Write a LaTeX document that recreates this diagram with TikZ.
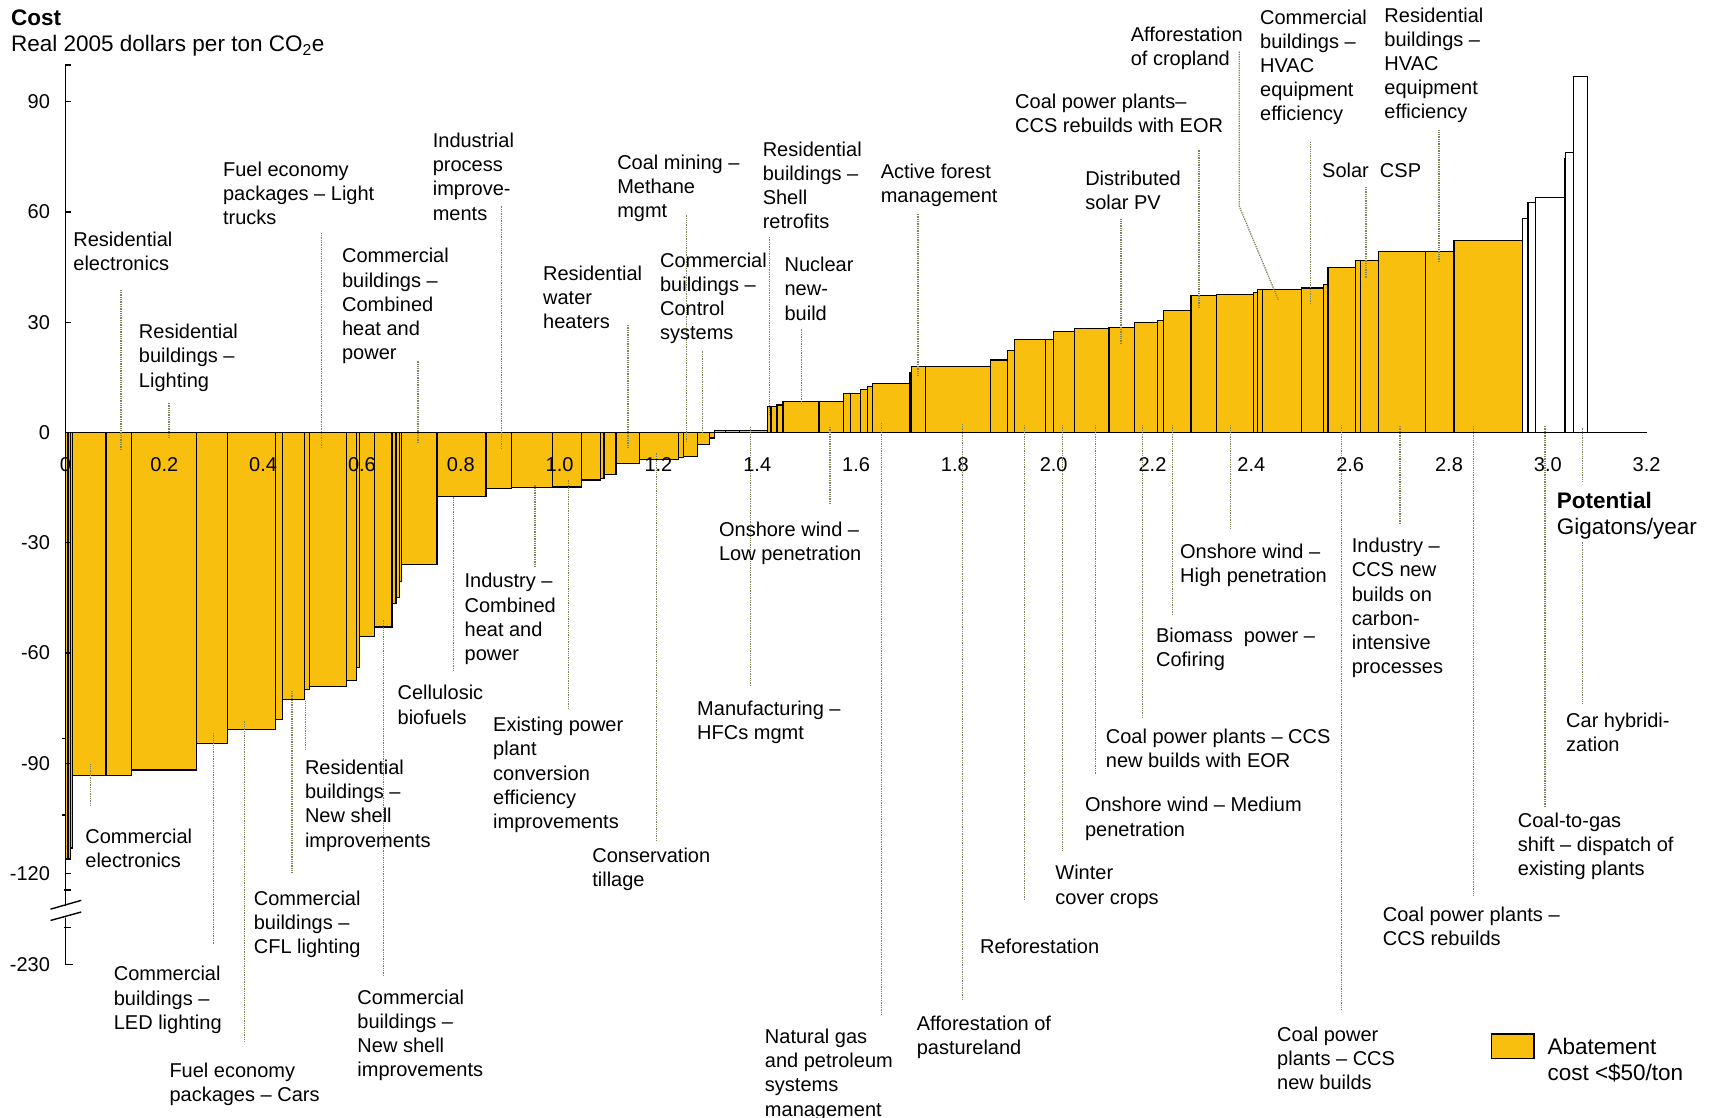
\documentclass[tikz,border=0pt]{standalone}
\usepackage{fontspec}
\setmainfont{Liberation Sans}
\usepackage{tikz}
\usetikzlibrary{positioning}
\definecolor{abate}{RGB}{249,191,14}
\definecolor{leadcol}{RGB}{125,133,88}

\begin{document}
\begin{tikzpicture}[x=1.098pt,y=-1.098pt,
    lab/.style={anchor=north west,align=left,inner sep=0pt,font=\fontsize{20}{24.2}\selectfont},
    biglab/.style={lab,font=\fontsize{22.5}{26.4}\selectfont},
    ticklab/.style={inner sep=0pt,font=\fontsize{20}{24}\selectfont},
    bar/.style={draw=black,line width=1.2pt,fill=abate},
    costly/.style={draw=black,line width=1.2pt,fill=white},
    leader/.style={draw=leadcol,line width=1.3pt,dash pattern=on 1.3pt off 1pt},
    axis/.style={draw=black,line width=1.4pt}]

  \useasboundingbox (0,0) rectangle (1560.1,1017.3);

  \begin{scope}[shift={(59.65,393.9)},x=494.1pt,y=3.676pt]
    \foreach \a/\b/\c in {0/0.005/-116,0.005/0.010/-116,0.010/0.014/-113,
        0.014/0.082/-93.2,0.082/0.133/-93.2,0.133/0.265/-91.8,0.265/0.328/-84.5,
        0.328/0.425/-80.7,0.425/0.439/-78.1,0.439/0.483/-72.7,0.483/0.494/-70.0,
        0.494/0.568/-69.0,0.568/0.589/-67.5,0.589/0.595/-64.0,0.595/0.626/-55.5,
        0.626/0.661/-52.9,0.661/0.669/-46.5,0.669/0.676/-44.9,0.676/0.680/-40.6,
        0.680/0.752/-35.9,0.752/0.851/-17.4,0.851/0.903/-15.3,0.903/0.985/-15.0,
        0.985/1.044/-14.8,1.044/1.082/-12.9,1.082/1.090/-12.5,1.090/1.114/-11.4,
        1.114/1.162/-8.4,1.162/1.241/-7.4,1.241/1.251/-6.8,1.251/1.279/-6.5,
        1.279/1.304/-3.2,1.304/1.314/-1.5,
        1.314/1.335/0.6,1.335/1.364/0.6,1.364/1.420/0.6,1.420/1.428/7.1,
        1.428/1.440/7.1,1.440/1.452/7.5,1.452/1.525/8.4,1.525/1.574/8.4,
        1.574/1.589/10.6,1.589/1.609/10.6,1.609/1.623/11.8,1.623/1.634/12.6,
        1.634/1.709/13.3,1.709/1.712/16.3,1.712/1.741/18.0,1.741/1.872/18.0,
        1.872/1.907/19.7,1.907/1.920/22.3,1.920/1.984/25.3,1.984/1.999/25.3,
        1.999/2.042/27.4,2.042/2.112/28.2,2.112/2.163/28.6,2.163/2.210/30.0,
        2.210/2.222/30.4,2.222/2.278/33.1,2.278/2.329/37.2,2.329/2.404/37.6,
        2.404/2.413/38.1,2.413/2.423/38.8,2.423/2.502/38.8,2.502/2.546/39.3,
        2.546/2.555/40.3,2.555/2.611/44.8,2.611/2.621/46.7,2.621/2.658/46.7,
        2.658/2.753/49.2,2.753/2.810/49.2,2.810/2.949/52.2}
      \draw[bar] (\a,0) rectangle (\b,\c);
    \foreach \a/\b/\c in {2.949/2.960/58.3,2.960/2.975/62.5,2.975/3.033/63.9,
        3.033/3.036/74.6,3.036/3.052/76.1,3.052/3.080/96.8}
      \draw[costly] (\a,0) rectangle (\b,\c);

    \draw[axis] (0,0) -- (3.2,0);
    \draw[axis] (0.012,100) -- (0,100) -- (0,-128.8);
    \draw[axis] (0,-131.9) -- (0,-144.7) -- (0.016,-144.7);
    \foreach \c [count=\i] in {90,60,30,0,-30,-60,-90,-120} {
      \draw[axis] (0,\c) -- (0.012,\c);
      \node[ticklab,anchor=east] (yt\i) at (-0.031,\c) {\c};
    }
    \node[ticklab,anchor=east] (yt9) at (-0.031,-144.7) {-230};
    \foreach \c in {-124.4,-134.7} \draw[axis] (-0.004,\c) -- (0.012,\c);
    \foreach \c in {-83.3,-104} \draw[axis] (-0.008,\c) -- (0,\c);
    \foreach \v [count=\i] in {0,0.2,0.4,0.6,0.8,1.0,1.2,1.4,1.6,1.8,2.0,2.2,2.4,2.6,2.8,3.0,3.2}
      \node[ticklab] (gx\i) at (\v,-8.7) {\v};
  \end{scope}

  \fill[white] (45,829.5) -- (76,821) -- (76,831.2) -- (45,839.7) -- cycle;
  \draw[axis] (46,828) -- (74,820);
  \draw[axis] (46,838.3) -- (74,830.6);

  \node[biglab,font=\fontsize{22.5}{26.4}\selectfont\bfseries] (cost) at (10,9) {Cost};
  \node[biglab] (unit) at (10,32) {Real 2005 dollars per ton CO\textsubscript{2}e};

  \foreach \n/\x/\ya/\yb in {resel/110.1/264/408.9, reslight/154/367/399,
      fuellight/292.5/212/408, comchp/380.6/329/404, indproc/457/188/408,
      reswater/572/296/408, coalmine/625/196/403, comctrl/640/320/394,
      resshell/701/216/378, nuclear/730/300/368, forest/836/195/343,
      solarpv/1021/199/314, ccseor/1092/137/281, comhvac/1193.7/129/276,
      reshvac/1310.6/118/238, solarcsp/1244.1/170/253.5,
      comel/82.3/695.4/733.8, comled/194.5/667.6/860, fuelcar/222.4/657/950,
      comcfl/266/629/795, resnew/278.1/638/683, comnew/349.3/565/888,
      cellul/413/453/612, indchp/487.3/442/516, existing/517.6/437.5/645,
      tillage/598/413/765, windlow/756/389/460, hfc/683.7/389/625,
      natgas/803/385/925, affpast/876.7/386/910, refor/932.9/387/820,
      winter/967.5/387/775, windmed/997.6/387/705, ccsneweor/1040.4/387/655,
      biomass/1067.7/387/560, windhigh/1120.8/387/482, ccsnew/1222/387/920,
      indccs/1275/388/476, ccsreb/1342/388/816, coalgas/1407/388/734,
      hybridup/1441/390/440, hybrid/1441/494/641} {
    \coordinate (\n-a) at (\x,\ya);
    \coordinate (\n-b) at (\x,\yb);
    \draw[leader] (\n-a) -- (\n-b);
  }
  \coordinate (affcrop-a) at (1128.7,47);
  \coordinate (affcrop-m) at (1128.7,188);
  \coordinate (affcrop-b) at (1164.2,273);
  \draw[leader] (affcrop-a) -- (affcrop-m) -- (affcrop-b);

  \node[lab] (resel) at (66.7,211) {Residential\\electronics};
  \node[lab] (reslight) at (126.4,295) {Residential\\buildings –\\Lighting};
  \node[lab] (fuellight) at (203,147) {Fuel economy\\packages – Light\\trucks};
  \node[lab] (comchp) at (311.4,226) {Commercial\\buildings –\\Combined\\heat and\\power};
  \node[lab] (indproc) at (394,121) {Industrial\\process\\improve-\\ments};
  \node[lab] (reswater) at (494.5,242) {Residential\\water\\heaters};
  \node[lab] (coalmine) at (562,141) {Coal mining –\\Methane\\mgmt};
  \node[lab] (comctrl) at (601,230) {Commercial\\buildings –\\Control\\systems};
  \node[lab] (resshell) at (694.5,129) {Residential\\buildings –\\Shell\\retrofits};
  \node[lab] (nuclear) at (714.4,234) {Nuclear\\new-\\build};
  \node[lab] (forest) at (802,149) {Active forest\\management};
  \node[lab] (solarpv) at (988.2,155.5) {Distributed\\solar PV};
  \node[lab] (ccseor) at (924.4,85) {Coal power plants–\\CCS rebuilds with EOR};
  \node[lab] (affcrop) at (1029.7,24) {Afforestation\\of cropland};
  \node[lab] (comhvac) at (1147.5,8.5) {Commercial\\buildings –\\HVAC\\equipment\\efficiency};
  \node[lab] (reshvac) at (1260.7,6.7) {Residential\\buildings –\\HVAC\\equipment\\efficiency};
  \node[lab] (solarcsp) at (1204,148.7) {Solar\ \ CSP};

  \node[lab] (comel) at (77.6,755) {Commercial\\electronics};
  \node[lab] (comled) at (103.5,880) {Commercial\\buildings –\\LED lighting};
  \node[lab] (fuelcar) at (154.2,968) {Fuel economy\\packages – Cars};
  \node[lab] (comcfl) at (231,811) {Commercial\\buildings –\\CFL lighting};
  \node[lab] (resnew) at (277.6,692) {Residential\\buildings –\\New shell\\improvements};
  \node[lab] (comnew) at (325.4,901) {Commercial\\buildings –\\New shell\\improvements};
  \node[lab] (cellul) at (362,624) {Cellulosic\\biofuels};
  \node[lab] (indchp) at (423,522) {Industry –\\Combined\\heat and\\power};
  \node[lab] (existing) at (449,653) {Existing power\\plant\\conversion\\efficiency\\improvements};
  \node[lab] (tillage) at (539.3,772) {Conservation\\tillage};
  \node[lab] (windlow) at (654.7,475) {Onshore wind –\\Low penetration};
  \node[lab] (hfc) at (634.8,638) {Manufacturing –\\HFCs mgmt};
  \node[lab] (natgas) at (696.5,937) {Natural gas\\and petroleum\\systems\\management};
  \node[lab] (affpast) at (834.8,925) {Afforestation of\\pastureland};
  \node[lab] (refor) at (892.5,855) {Reforestation};
  \node[lab] (winter) at (961,788) {Winter\\cover crops};
  \node[lab] (windmed) at (988,726) {Onshore wind – Medium\\penetration};
  \node[lab] (ccsneweor) at (1007,664) {Coal power plants – CCS\\new builds with EOR};
  \node[lab] (biomass) at (1052.7,572) {Biomass\ \ power –\\Cofiring};
  \node[lab] (windhigh) at (1074.6,495) {Onshore wind –\\High penetration};
  \node[lab] (ccsnew) at (1163,935) {Coal power\\plants – CCS\\new builds};
  \node[lab] (indccs) at (1231,490) {Industry –\\CCS new\\builds on\\carbon-\\intensive\\processes};
  \node[lab] (ccsreb) at (1259.3,826) {Coal power plants –\\CCS rebuilds};
  \node[lab] (coalgas) at (1382.2,740) {Coal-to-gas\\shift – dispatch of\\existing plants};
  \node[lab] (hybrid) at (1426.2,649) {Car hybridi-\\zation};
  \node[biglab] (potential) at (1417.7,448) {\textbf{Potential}\\Gigatons/year};

  \draw[bar] (1358.5,941.7) rectangle (1397,964);
  \node[biglab] (legend) at (1409.2,945) {Abatement\\cost <\$50/ton};
\end{tikzpicture}
\end{document}
